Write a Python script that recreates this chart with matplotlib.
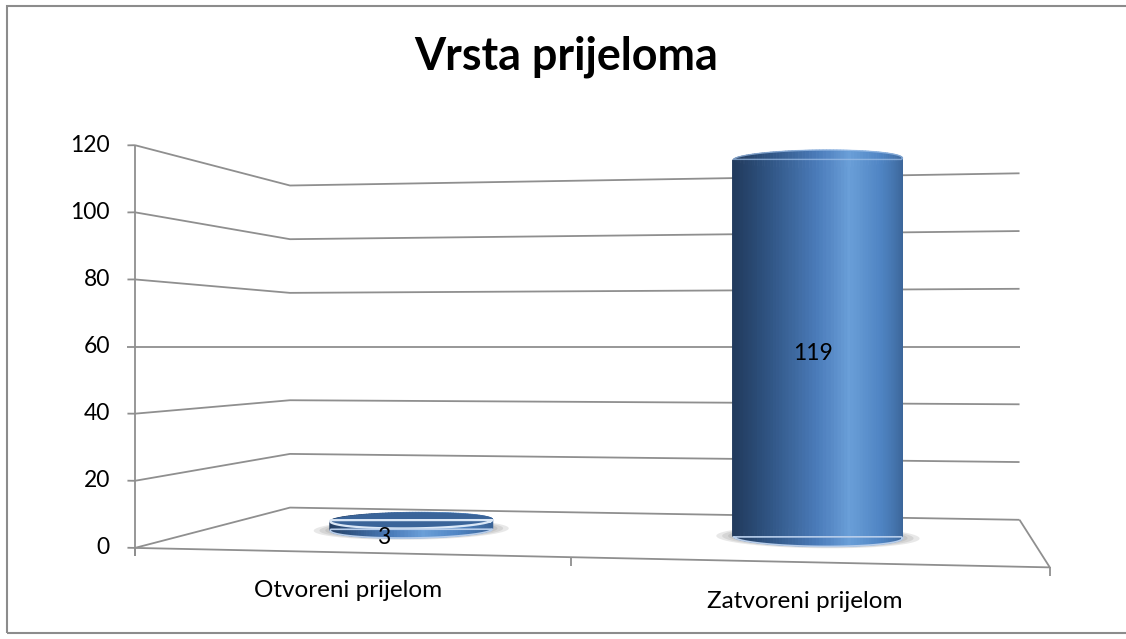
import numpy as np
import matplotlib
matplotlib.use("Agg")
import matplotlib.pyplot as plt
from matplotlib.colors import LinearSegmentedColormap
from matplotlib.patches import Rectangle
from mpl_toolkits.mplot3d import proj3d
from mpl_toolkits.mplot3d.art3d import Poly3DCollection

plt.rcParams['font.family'] = ['Lato', 'DejaVu Sans']

# ---------------- data ----------------
title = "Vrsta prijeloma"
categories = ["Otvoreni prijelom", "Zatvoreni prijelom"]
values = [3, 119]
yticks = [0, 20, 40, 60, 80, 100, 120]

# ---------------- figure / 3D view ----------------
W_PX, H_PX = 1126, 639
fig = plt.figure(figsize=(W_PX / 100, H_PX / 100), dpi=100)
ax = fig.add_axes([0, 0, 1, 1], projection='3d', computed_zorder=False)
XMIN, XMAX = -0.5, len(categories) - 0.5
YMIN, YMAX = 0.0, 1.0
ZMIN, ZMAX = yticks[0], yticks[-1]

AZIM, FOCAL = -80.165, 0.2655
BOX = (2.208, 1.0874, 1.0)
ZOOM = 0.8
SQ, CX, CY = 1200.86, 594.20, 276.22  # square axes size and centre, pixels

ax.set_proj_type('persp', focal_length=FOCAL)
ax.view_init(elev=0, azim=AZIM, roll=0)
ax.set_box_aspect(BOX, zoom=ZOOM)
ax.set_position([(CX - SQ / 2) / W_PX, (CY - SQ / 2) / H_PX, SQ / W_PX, SQ / H_PX])


def set_limits():
    ax.set_xlim(XMIN, XMAX)
    ax.set_ylim(YMIN, YMAX)
    ax.set_zlim(ZMIN, ZMAX)


set_limits()


def to2d(x, y, z):
    M = ax.get_proj()
    xs, ys, _ = proj3d.proj_transform(np.atleast_1d(float(x)), np.atleast_1d(float(y)),
                                      np.atleast_1d(float(z)), M)
    return float(xs[0]), float(ys[0])


def text3(x, y, z, s, **kw):
    px, py = to2d(x, y, z)
    return ax.text2D(px, py, s, transform=ax.transData, zorder=10, **kw)


# ---------------- walls / grid ----------------
grid_kw = dict(color='#8f8f8f', lw=1.3, zorder=1, solid_capstyle='butt')
for v in yticks:
    ax.plot([XMIN, XMIN, XMAX], [YMIN, YMAX, YMAX], [v, v, v], **grid_kw)
ax.plot([XMIN, XMAX, XMAX], [YMIN, YMIN, YMAX], [ZMIN] * 3, **grid_kw)
TZ = 2.4
ax.plot([XMIN, XMIN], [YMIN, YMIN], [ZMIN - TZ, ZMAX], **grid_kw)
for v in yticks:
    ax.plot([XMIN - 0.018, XMIN], [YMIN, YMIN], [v, v], **grid_kw)
for b in np.arange(XMIN, XMAX + 0.01, 1.0):
    ax.plot([b, b], [YMIN, YMIN], [ZMIN, ZMIN - TZ], **grid_kw)

# ---------------- cylinders ----------------
world_x = BOX[0] / (XMAX - XMIN)
world_y = BOX[1] / (YMAX - YMIN)
RX = 0.2
RY = RX * world_x / world_y
YC = (YMIN + YMAX) / 2
a = np.deg2rad(AZIM)
right = np.array([-np.sin(a), np.cos(a)])
eye = np.array([np.cos(a), np.sin(a)])
cmap = LinearSegmentedColormap.from_list(
    'cyl', [(0, '#223b5e'), (0.18, '#305584'), (0.45, '#4c7dbb'),
            (0.62, '#6a9fd8'), (0.82, '#4f84c3'), (1, '#3b6497')])
N = 160
th = np.linspace(0, 2 * np.pi, N + 1)
eye_z = (ZMIN + ZMAX) / 2

for i, v in enumerate(values):
    xs = i + RX * np.cos(th)
    ys = YC + RY * np.sin(th)
    # soft shadow on the floor
    for f in (1.2, 1.13, 1.06):
        ring = [list(zip(i + f * RX * np.cos(th), YC + f * RY * np.sin(th), np.full(N + 1, 0.05)))]
        ax.add_collection3d(Poly3DCollection(ring, facecolor='#7a7a7a', edgecolor='none',
                                             alpha=0.17, zorder=2))
    quads, cols = [], []
    for j in range(N):
        tm = 0.5 * (th[j] + th[j + 1])
        s = np.cos(tm) * right[0] + np.sin(tm) * right[1]
        quads.append([(xs[j], ys[j], 0), (xs[j + 1], ys[j + 1], 0),
                      (xs[j + 1], ys[j + 1], v), (xs[j], ys[j], v)])
        cols.append(cmap((s + 1) / 2))
    ax.add_collection3d(Poly3DCollection(quads, facecolors=cols, edgecolors=cols,
                                         linewidths=0.6, zorder=3))
    front = (np.cos(th) * eye[0] + np.sin(th) * eye[1]) > 0
    if v < eye_z:
        top = [list(zip(xs, ys, np.full(N + 1, v)))]
        ax.add_collection3d(Poly3DCollection(top, facecolor='#3a6499', edgecolor='none', zorder=4))
        ax.plot(xs[front], ys[front], np.full(front.sum(), v), color='#dbe8f7', lw=1.6, zorder=5)
    else:
        ax.plot(xs[front], ys[front], np.full(front.sum(), v), color='#9fc0e8', lw=1.0,
                alpha=0.7, zorder=5)
    ax.plot(xs[front], ys[front], np.zeros(front.sum()), color='#b7cdea', lw=1.2, zorder=5)

set_limits()
ax.set_axis_off()

# ---------------- texts ----------------
for v in yticks:
    text3(XMIN - 0.06, YMIN, v, str(v), ha='right', va='center', fontsize=16.5)
for i, c in enumerate(categories):
    text3(i, YMIN, -11, c, ha='center', va='center', fontsize=17.5)
label_dx = [-0.01, 0.0]
for i, v in enumerate(values):
    text3(i + label_dx[i], YC - RY, v / 2 - 1.5, str(v), ha='center', va='center', fontsize=16.5)

fig.text(566 / W_PX, 1 - 70 / H_PX, title, ha='center', va='baseline',
         fontsize=32.3, fontweight='bold')
fig.patches.append(Rectangle((7 / W_PX, 6 / H_PX), 1122 / W_PX, 627 / H_PX,
                             transform=fig.transFigure, fill=False,
                             edgecolor='#8c8c8c', lw=1.5))

fig.savefig('out.png', dpi=100)
